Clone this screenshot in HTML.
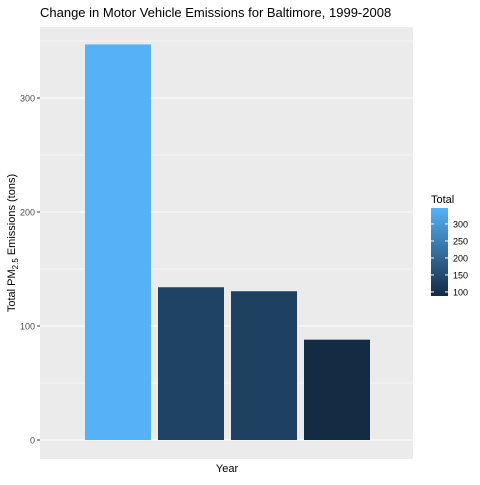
<!DOCTYPE html>
<html><head><meta charset="utf-8"><style>
body{margin:0;background:#fff;font-family:"Liberation Sans",sans-serif}
</style></head><body>
<svg id="c" width="480" height="480" xmlns="http://www.w3.org/2000/svg">
<defs><linearGradient id="g" x1="0" y1="1" x2="0" y2="0"><stop offset="0" stop-color="#132B43"/><stop offset="1" stop-color="#56B1F7"/></linearGradient></defs>
</svg>
<script>
const years=["1999","2002","2005","2008"];
const totals=[347,134,130.5,88];
const yTicks=[0,100,200,300];
const legendTicks=[100,150,200,250,300];
const svg=document.getElementById('c');
const NS='http://www.w3.org/2000/svg';
function el(t,a,p){const e=document.createElementNS(NS,t);for(const k in a)e.setAttribute(k,a[k]);(p||svg).appendChild(e);return e;}
const px0=40,px1=413,py0=27,py1=459;
const y=v=>440-v*1.14;
const bw=66,step=73,bx0=85;
const mn=Math.min(...totals),mx=Math.max(...totals);
function col(v){const t=(v-mn)/(mx-mn);const a=[0x13,0x2B,0x43],b=[0x56,0xB1,0xF7];return 'rgb('+a.map((c,i)=>Math.round(c+(b[i]-c)*t)).join(',')+')';}
const panel=el('rect',{x:px0,y:py0,width:px1-px0,height:py1-py0,fill:'#EBEBEB'});

for(let i=0;i<yTicks.length;i++){
 const v=yTicks[i];
 if(i<yTicks.length-1){const m=el('line',{x1:px0,x2:px1,y1:y(v+50),y2:y(v+50),stroke:'#fff','stroke-width':0.6});}
 const g=el('line',{x1:px0,x2:px1,y1:y(v),y2:y(v),stroke:'#fff','stroke-width':1.1});
 
 const tk=el('line',{x1:px0-3,x2:px0,y1:y(v),y2:y(v),stroke:'#333','stroke-width':1});
 
 const tl=el('text',{x:px0-5,y:y(v)+3.5,'text-anchor':'end','font-size':9,fill:'#4D4D4D'});tl.textContent=v;
 
}
[y(350),y(-50)].forEach(yy=>{const m=el('line',{x1:px0,x2:px1,y1:yy,y2:yy,stroke:'#fff','stroke-width':0.6});});
for(let i=0;i<totals.length;i++){
 const r=el('rect',{x:bx0+i*step,y:y(totals[i]),width:bw,height:y(0)-y(totals[i]),fill:col(totals[i])});
 
}
const t=el('text',{x:40,y:17,'font-size':13,fill:'#000'});t.textContent='Change in Motor Vehicle Emissions for Baltimore, 1999-2008';

const xt=el('text',{x:227,y:472,'text-anchor':'middle','font-size':11,fill:'#000'});xt.textContent='Year';

const yt=el('text',{transform:'translate(15,243) rotate(-90)','text-anchor':'middle','font-size':11,fill:'#000'});
yt.innerHTML='Total PM<tspan font-size="8" dy="3">2.5</tspan><tspan dy="-3"> Emissions (tons)</tspan>';

const lt=el('text',{x:431,y:203,'font-size':11,fill:'#000'});lt.textContent='Total';

const cb0=431,cbw=17,cbTop=208,cbBot=296;
const ly=v=>cbBot-(v-mn)/(mx-mn)*(cbBot-cbTop);
const cb=el('rect',{x:cb0,y:cbTop,width:cbw,height:cbBot-cbTop,fill:'url(#g)'});

legendTicks.forEach(v=>{
 const a=el('line',{x1:cb0,x2:cb0+3,y1:ly(v),y2:ly(v),stroke:'#fff','stroke-width':1});
 const b=el('line',{x1:cb0+cbw-3,x2:cb0+cbw,y1:ly(v),y2:ly(v),stroke:'#fff','stroke-width':1});
 const l=el('text',{x:cb0+cbw+5,y:ly(v)+3.5,'font-size':9,fill:'#000'});l.textContent=v;
 
});
</script>
</body></html>
